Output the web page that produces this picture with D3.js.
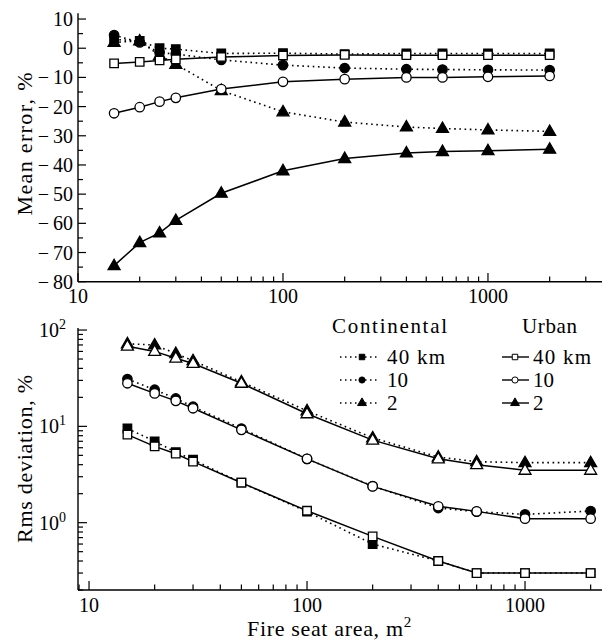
<!DOCTYPE html>
<html><head><meta charset="utf-8">
<script src="https://cdn.jsdelivr.net/npm/d3@7"></script>
<style>body{margin:0;background:#fff}svg{display:block}text{font-family:"Liberation Serif","DejaVu Serif",serif;fill:#000}</style>
</head><body>
<svg id="c" width="616" height="642"></svg>
<script>
const areas = [15, 20, 25, 30, 50, 100, 200, 400, 600, 1000, 2000];

// Top panel: mean error, %
const meanCont40 = [3, 2.5, 0, -0.3, -1.8, -1.7, -2, -1.8, -1.8, -1.8, -1.8];
const meanCont10 = [4.5, 2, -1.5, -2, -4, -5.8, -6.8, -7.2, -7.3, -7.4, -7.5];
const meanCont2  = [2, 2.5, -2.5, -5.5, -14.5, -21.8, -25.3, -27, -27.5, -28, -28.5];
const meanUrb40  = [-5.2, -4.7, -4.2, -3.8, -3, -2.5, -2.3, -2.4, -2.4, -2.4, -2.4];
const meanUrb10  = [-22.3, -20.2, -18.3, -17, -14, -11.5, -10.6, -10, -10, -9.8, -9.5];
const meanUrb2   = [-74.5, -66.6, -63.3, -59, -49.7, -42, -37.8, -35.9, -35.4, -35.1, -34.6];

// Bottom panel: rms deviation, %
const rmsCont40 = [9.5, 7.0, 5.4, 4.5, 2.6, 1.3, 0.6, 0.4, 0.3, 0.3, 0.3];
const rmsCont10 = [31, 24, 19.5, 16, 9.5, 4.6, 2.4, 1.42, 1.3, 1.22, 1.32];
const rmsCont2  = [72, 70, 57, 48, 29, 14.5, 7.6, 4.8, 4.3, 4.2, 4.2];
const rmsUrb40  = [8.2, 6.2, 5.2, 4.3, 2.6, 1.33, 0.72, 0.4, 0.3, 0.3, 0.3];
const rmsUrb10  = [28, 22, 18.4, 15.4, 9.2, 4.6, 2.38, 1.48, 1.31, 1.1, 1.1];
const rmsUrb2   = [68, 60, 51, 45, 28, 13.5, 7.2, 4.6, 4.0, 3.5, 3.5];

const topYTicks = [10, 0, -10, -20, -30, -40, -50, -60, -70, -80];
const xTickLabels = [10, 100, 1000];
const legendLabels = ["40 km", "10", "2"];

const svg = d3.select("#c");
const FONT = 20;

// scales
const xTop = d3.scaleLog().domain([10, 3600]).range([78, 602]);
const yTop = d3.scaleLinear().domain([-80, 12]).range([281.7, 13.2]);
const xBot = d3.scaleLog().domain([8.9, 2255]).range([78, 602]);
const yBot = d3.scaleLog().domain([0.2, 105]).range([590, 328]);

function symbolPath(shape, size) {
  const t = shape === "square" ? d3.symbolSquare : shape === "circle" ? d3.symbolCircle : d3.symbolTriangle;
  return d3.symbol().type(t).size(size)();
}
const SIZES = {square: 72, circle: 70, triangle: 62};

function drawSeries(g, xs, ys, vals, shape, filled, dotted) {
  const line = d3.line().x((d, i) => xs(areas[i])).y(d => ys(d));
  g.append("path").attr("d", line(vals)).attr("fill", "none").attr("stroke", "#000")
    .attr("stroke-width", dotted ? 1.6 : 1.5)
    .attr("stroke-dasharray", dotted ? "1.6,3.6" : null);
  g.selectAll(null).data(vals).enter().append("path")
    .attr("d", symbolPath(shape, SIZES[shape]))
    .attr("transform", (d, i) => `translate(${xs(areas[i])},${ys(d) + (shape === "triangle" ? 0.5 : 0)})`)
    .attr("fill", filled ? "#000" : "#fff").attr("stroke", "#000").attr("stroke-width", 1.3);
}

// ---------- TOP PANEL ----------
const gt = svg.append("g");
gt.append("line").attr("x1", 78).attr("x2", 78).attr("y1", yTop.range()[1]).attr("y2", yTop.range()[0]).attr("stroke", "#000").attr("stroke-width", 1.4);
gt.append("line").attr("x1", 78).attr("x2", 602).attr("y1", 281.7).attr("y2", 281.7).attr("stroke", "#000").attr("stroke-width", 1.4);
const yMinor = d3.range(-75, 12, 10);
gt.selectAll(null).data(topYTicks).enter().append("line")
  .attr("x1", 78).attr("x2", 86).attr("y1", d => yTop(d)).attr("y2", d => yTop(d)).attr("stroke", "#000").attr("stroke-width", 1.2);
gt.selectAll(null).data(yMinor).enter().append("line")
  .attr("x1", 78).attr("x2", 83).attr("y1", d => yTop(d)).attr("y2", d => yTop(d)).attr("stroke", "#000").attr("stroke-width", 1.2);
gt.selectAll(null).data(topYTicks).enter().append("text")
  .attr("x", 73).attr("y", d => yTop(d) + 7).attr("text-anchor", "end").attr("font-size", FONT)
  .text(d => d < 0 ? "\u2212" + "\u2009" + Math.abs(d) : String(d));
const xTopTicks = xTop.ticks().filter(d => d >= 10 && d <= 3600);
gt.selectAll(null).data(xTopTicks).enter().append("line")
  .attr("x1", d => xTop(d)).attr("x2", d => xTop(d))
  .attr("y1", 281.7).attr("y2", d => xTickLabels.includes(d) ? 273 : 276.5).attr("stroke", "#000").attr("stroke-width", 1.2);
gt.selectAll(null).data(xTickLabels).enter().append("text")
  .attr("x", d => xTop(d)).attr("y", 303).attr("text-anchor", "middle").attr("font-size", FONT).text(d => d);
gt.append("text").attr("transform", "translate(32,144) rotate(-90)").attr("text-anchor", "middle").attr("font-size", 22)
  .attr("textLength", 143).attr("lengthAdjust", "spacing").text("Mean error, %");

drawSeries(gt, xTop, yTop, meanCont2, "triangle", true, true);
drawSeries(gt, xTop, yTop, meanCont10, "circle", true, true);
drawSeries(gt, xTop, yTop, meanCont40, "square", true, true);
drawSeries(gt, xTop, yTop, meanUrb2, "triangle", true, false);
drawSeries(gt, xTop, yTop, meanUrb10, "circle", false, false);
drawSeries(gt, xTop, yTop, meanUrb40, "square", false, false);

// ---------- BOTTOM PANEL ----------
const gb = svg.append("g");
gb.append("line").attr("x1", 78).attr("x2", 78).attr("y1", 328).attr("y2", 590).attr("stroke", "#000").attr("stroke-width", 1.4);
gb.append("line").attr("x1", 78).attr("x2", 602).attr("y1", 590).attr("y2", 590).attr("stroke", "#000").attr("stroke-width", 1.4);
const yBotTicks = yBot.ticks().filter(d => d >= 0.2 && d <= 105);
const yMajors = [1, 10, 100];
gb.selectAll(null).data(yBotTicks).enter().append("line")
  .attr("x1", 78).attr("x2", d => yMajors.includes(d) ? 87 : 83)
  .attr("y1", d => yBot(d)).attr("y2", d => yBot(d)).attr("stroke", "#000").attr("stroke-width", 1.2);
const yl = gb.selectAll(null).data(yMajors).enter().append("text")
  .attr("x", 66).attr("y", d => yBot(d) + 7).attr("text-anchor", "end").attr("font-size", FONT);
yl.append("tspan").text("10");
yl.append("tspan").attr("dy", -8).attr("font-size", 14).text(d => Math.round(Math.log10(d)));
const xBotTicks = xBot.ticks().filter(d => d >= 9 && d <= 2255);
gb.selectAll(null).data(xBotTicks).enter().append("line")
  .attr("x1", d => xBot(d)).attr("x2", d => xBot(d))
  .attr("y1", 590).attr("y2", d => xTickLabels.includes(d) ? 581 : 584.5).attr("stroke", "#000").attr("stroke-width", 1.2);
gb.selectAll(null).data(xTickLabels).enter().append("text")
  .attr("x", d => xBot(d)).attr("y", 612).attr("text-anchor", "middle").attr("font-size", FONT).text(d => d);
gb.append("text").attr("transform", "translate(32,459) rotate(-90)").attr("text-anchor", "middle").attr("font-size", 22)
  .attr("textLength", 168).attr("lengthAdjust", "spacing").text("Rms deviation, %");
const xt = gb.append("text").attr("x", 247).attr("y", 636).attr("font-size", 22);
xt.append("tspan").attr("textLength", 156).attr("lengthAdjust", "spacing").text("Fire seat area, m");
xt.append("tspan").attr("dy", -9).attr("font-size", 15).text("2");

drawSeries(gb, xBot, yBot, rmsCont2, "triangle", true, true);
drawSeries(gb, xBot, yBot, rmsCont10, "circle", true, true);
drawSeries(gb, xBot, yBot, rmsCont40, "square", true, true);
drawSeries(gb, xBot, yBot, rmsUrb2, "triangle", false, false);
drawSeries(gb, xBot, yBot, rmsUrb10, "circle", false, false);
drawSeries(gb, xBot, yBot, rmsUrb40, "square", false, false);

// ---------- LEGEND ----------
const lg = svg.append("g");
lg.append("text").attr("x", 332).attr("y", 333).attr("font-size", 21).attr("textLength", 115).attr("lengthAdjust", "spacing").text("Continental");
lg.append("text").attr("x", 522).attr("y", 333).attr("font-size", 21).attr("textLength", 55).attr("lengthAdjust", "spacing").text("Urban");
const shapes = ["square", "circle", "triangle"];
const legSizes = {square: 30, circle: 30, triangle: 34};
legendLabels.forEach((lab, i) => {
  const y = 357 + i * 23;
  lg.append("line").attr("x1", 340).attr("x2", 380).attr("y1", y).attr("y2", y).attr("stroke", "#000").attr("stroke-width", 1.5).attr("stroke-dasharray", "1.5,3.5");
  lg.append("path").attr("d", symbolPath(shapes[i], legSizes[shapes[i]])).attr("transform", `translate(362,${y})`).attr("fill", "#000").attr("stroke", "#000").attr("stroke-width", 1);
  const t1 = lg.append("text").attr("x", 387).attr("y", y + 7).attr("font-size", 21).text(lab);
  lg.append("line").attr("x1", 502).attr("x2", 529).attr("y1", y).attr("y2", y).attr("stroke", "#000").attr("stroke-width", 1.4);
  lg.append("path").attr("d", symbolPath(shapes[i], legSizes[shapes[i]])).attr("transform", `translate(515,${y})`)
    .attr("fill", i === 2 ? "#000" : "#fff").attr("stroke", "#000").attr("stroke-width", 1);
  const t2 = lg.append("text").attr("x", 533).attr("y", y + 7).attr("font-size", 21).text(lab);
  if (i === 0) { t1.attr("textLength", 58).attr("lengthAdjust", "spacing"); t2.attr("textLength", 58).attr("lengthAdjust", "spacing"); }
});
</script>
</body></html>
